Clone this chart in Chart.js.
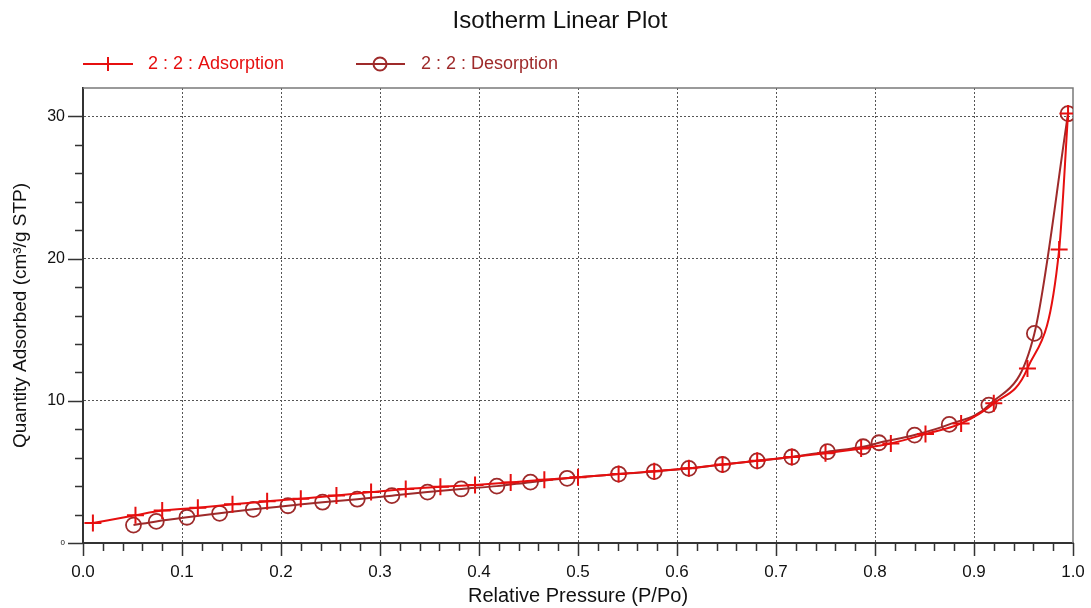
<!DOCTYPE html>
<html><head><meta charset="utf-8">
<script src="https://cdn.jsdelivr.net/npm/chart.js@4.4.0/dist/chart.umd.min.js"></script>
<style>html,body{margin:0;padding:0;background:#fff;overflow:hidden}#wrap{position:relative;width:1091px;height:608px}</style>
</head><body><div id="wrap"><canvas id="c" width="1091" height="608"></canvas></div>
<script>
const chartTitle = 'Isotherm Linear Plot';
const xAxisTitle = 'Relative Pressure (P/Po)';
const yAxisTitle = 'Quantity Adsorbed (cm³/g STP)';
const seriesLabels = ['2 : 2 : Adsorption', '2 : 2 : Desorption'];

const adsP = [0.010, 0.053, 0.080, 0.116, 0.151, 0.186, 0.220, 0.256, 0.291, 0.326, 0.361, 0.396, 0.432, 0.466, 0.500, 0.541, 0.577, 0.612, 0.646, 0.681, 0.716, 0.750, 0.786, 0.816, 0.851, 0.887, 0.920, 0.954, 0.986, 0.995];
const adsQ = [1.40, 1.95, 2.28, 2.48, 2.72, 2.93, 3.12, 3.34, 3.58, 3.80, 3.95, 4.08, 4.26, 4.45, 4.62, 4.85, 5.05, 5.25, 5.52, 5.78, 6.05, 6.32, 6.65, 7.00, 7.66, 8.41, 9.82, 12.28, 20.64, 30.20];

const desP = [0.051, 0.074, 0.105, 0.138, 0.172, 0.207, 0.242, 0.277, 0.312, 0.348, 0.382, 0.418, 0.452, 0.489, 0.541, 0.577, 0.612, 0.646, 0.681, 0.716, 0.752, 0.788, 0.804, 0.840, 0.875, 0.915, 0.961, 0.995];
const desQ = [1.26, 1.52, 1.81, 2.09, 2.37, 2.62, 2.87, 3.08, 3.33, 3.58, 3.80, 4.00, 4.28, 4.55, 4.85, 5.02, 5.25, 5.52, 5.78, 6.05, 6.42, 6.77, 7.05, 7.59, 8.34, 9.70, 14.74, 30.20];

const xMajorTicks = [0.0, 0.1, 0.2, 0.3, 0.4, 0.5, 0.6, 0.7, 0.8, 0.9, 1.0];
const yMajorTicks = [0, 10, 20, 30];

const FONT = '"Liberation Sans", Arial, sans-serif';
const ADS_COLOR = '#e60f0f';
const DES_COLOR = '#9e2a2a';

const isMajorX = v => xMajorTicks.some(m => Math.abs(m - v) < 1e-6);
const isMajorY = v => yMajorTicks.some(m => Math.abs(m - v) < 1e-6);
const toXY = (xs, ys) => xs.map((x, i) => ({x, y: ys[i]}));

function drawMarker(ctx, style, x, y, r, color) {
  ctx.save();
  ctx.strokeStyle = color;
  ctx.lineWidth = 2;
  ctx.beginPath();
  if (style === 'cross') {
    ctx.moveTo(x - r, y); ctx.lineTo(x + r, y);
    ctx.moveTo(x, y - r); ctx.lineTo(x, y + r);
  } else {
    ctx.arc(x, y, r, 0, Math.PI * 2);
  }
  ctx.stroke();
  ctx.restore();
}

const framePlugin = {
  id: 'frameTicks',
  beforeDatasetsDraw(chart) {
    const {ctx, chartArea: a, scales: {x, y}} = chart;
    ctx.save();
    ctx.strokeStyle = '#7a7a7a';
    ctx.lineWidth = 1.5;
    ctx.beginPath();
    ctx.moveTo(a.left, a.top); ctx.lineTo(a.right, a.top); ctx.lineTo(a.right, a.bottom);
    ctx.stroke();
    ctx.strokeStyle = '#333';
    ctx.lineWidth = 1.5;
    ctx.beginPath();
    x.ticks.forEach(t => {
      const px = Math.round(x.getPixelForValue(t.value)) + 0.5;
      const len = isMajorX(t.value) ? 13 : 8;
      ctx.moveTo(px, a.bottom); ctx.lineTo(px, a.bottom + len);
    });
    y.ticks.forEach(t => {
      if (t.value > 30.001) return;
      const py = Math.round(y.getPixelForValue(t.value)) + 0.5;
      const len = isMajorY(t.value) ? 15 : 8;
      ctx.moveTo(a.left - len, py); ctx.lineTo(a.left, py);
    });
    ctx.stroke();
    ctx.restore();
  },
  afterDraw(chart) {
    const {ctx} = chart;
    ctx.save();
    ctx.fillStyle = '#111';
    ctx.font = '24px ' + FONT;
    ctx.textAlign = 'center';
    ctx.textBaseline = 'middle';
    ctx.fillText(chartTitle, 560, 21);
    const items = [
      {x0: 83, x1: 133, mx: 108, tx: 148, style: 'cross', r: 7, color: ADS_COLOR, text: seriesLabels[0]},
      {x0: 356, x1: 405, mx: 380, tx: 421, style: 'circle', r: 6.5, color: DES_COLOR, text: seriesLabels[1]}
    ];
    const ly = 64;
    items.forEach(it => {
      ctx.strokeStyle = it.color;
      ctx.lineWidth = 2;
      ctx.beginPath(); ctx.moveTo(it.x0, ly); ctx.lineTo(it.x1, ly); ctx.stroke();
      drawMarker(ctx, it.style, it.mx, ly, it.r, it.color);
      ctx.fillStyle = it.color;
      ctx.font = '18px ' + FONT;
      ctx.textAlign = 'left';
      ctx.fillText(it.text, it.tx, ly);
    });
    ctx.restore();
  }
};

new Chart(document.getElementById('c'), {
  type: 'line',
  data: {
    datasets: [
      {
        label: seriesLabels[0],
        data: toXY(adsP, adsQ),
        borderColor: ADS_COLOR,
        backgroundColor: 'transparent',
        borderWidth: 2,
        pointStyle: 'cross',
        pointRadius: 8.5,
        pointBorderWidth: 2,
        pointBorderColor: ADS_COLOR,
        cubicInterpolationMode: 'monotone',
        fill: false
      },
      {
        label: seriesLabels[1],
        data: toXY(desP, desQ),
        borderColor: DES_COLOR,
        backgroundColor: 'transparent',
        borderWidth: 2,
        pointStyle: 'circle',
        pointRadius: 7.5,
        pointBorderWidth: 1.8,
        pointBorderColor: DES_COLOR,
        pointBackgroundColor: 'transparent',
        cubicInterpolationMode: 'monotone',
        fill: false
      }
    ]
  },
  options: {
    responsive: false,
    animation: false,
    devicePixelRatio: 1,
    layout: {padding: {top: 88, right: 18, left: 0, bottom: 0}},
    plugins: {legend: {display: false}, title: {display: false}, tooltip: {enabled: false}},
    scales: {
      x: {
        type: 'linear', min: 0, max: 1,
        afterFit: s => { s.height = 65; s.paddingRight = 0; s.paddingLeft = 0; },
        ticks: {
          stepSize: 0.02, autoSkip: false, maxRotation: 0, padding: 19,
          color: '#111', font: {family: FONT, size: 17},
          callback: v => isMajorX(v) ? Number(v).toFixed(1) : ''
        },
        grid: {
          drawTicks: false, lineWidth: 1,
          color: c => (c.tick && isMajorX(c.tick.value) && c.tick.value > 0.001 && c.tick.value < 0.999) ? '#555' : 'transparent'
        },
        border: {display: true, color: '#333', width: 2, dash: [2, 2]},
        title: {display: true, text: xAxisTitle, color: '#111', font: {family: FONT, size: 20}, padding: {top: 0, bottom: 0}}
      },
      y: {
        type: 'linear', min: 0, max: 32,
        afterFit: s => { s.width = 83; s.paddingTop = 0; s.paddingBottom = 0; },
        ticks: {
          stepSize: 2, autoSkip: false, padding: 18,
          color: '#111',
          font: c => ({family: FONT, size: (c.tick && c.tick.value === 0) ? 8 : 16}),
          callback: v => isMajorY(v) ? String(v) : ''
        },
        grid: {
          drawTicks: false, lineWidth: 1,
          color: c => (c.tick && isMajorY(c.tick.value) && c.tick.value > 0) ? '#555' : 'transparent'
        },
        border: {display: true, color: '#333', width: 2, dash: [2, 2]},
        title: {display: true, text: yAxisTitle, color: '#111', font: {family: FONT, size: 19}, padding: {top: 9, bottom: 0}}
      }
    }
  },
  plugins: [framePlugin]
});
</script>
</body></html>
